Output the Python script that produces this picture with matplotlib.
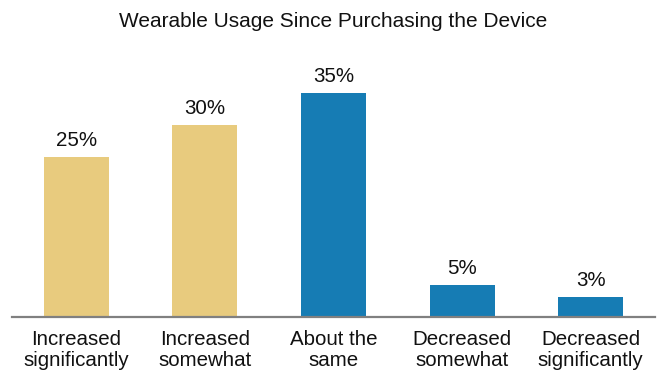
import matplotlib
matplotlib.use("Agg")
import matplotlib.pyplot as plt

categories = ["Increased\nsignificantly", "Increased\nsomewhat", "About the\nsame",
              "Decreased\nsomewhat", "Decreased\nsignificantly"]
shares = [25, 30, 35, 5, 3]
labels = ["25%", "30%", "35%", "5%", "3%"]
colors = ["#E8CB7E", "#E8CB7E", "#167CB4", "#167CB4", "#167CB4"]

plt.rcParams["font.family"] = ["Liberation Sans", "DejaVu Sans"]

fig = plt.figure(figsize=(6.58, 3.76), dpi=100)
ax = fig.add_axes([12 / 658, 59.5 / 376, 643 / 658, 256 / 376])

x = range(len(categories))
bars = ax.bar(x, shares, width=0.506, color=colors)
for b, lab in zip(bars, labels):
    ax.annotate(lab, (b.get_x() + b.get_width() / 2, b.get_height()),
                xytext=(0, 5), textcoords="offset points",
                ha="center", va="bottom", fontsize=14.8, color="#111111")

ax.set_xlim(-0.5, len(categories) - 0.5)
ax.set_ylim(0, 40)
ax.set_xticks(list(x))
ax.set_xticklabels(categories, fontsize=14.8, color="#111111", linespacing=1.12)
ax.tick_params(axis="x", length=0, pad=10)
ax.set_yticks([])
for side in ["top", "right", "left"]:
    ax.spines[side].set_visible(False)
ax.spines["bottom"].set_color("#808080")
ax.spines["bottom"].set_linewidth(1.6)

fig.text(0.506, 0.942, "Wearable Usage Since Purchasing the Device",
         ha="center", va="center", fontsize=15, color="#111111")

fig.savefig("out.png", dpi=100)
